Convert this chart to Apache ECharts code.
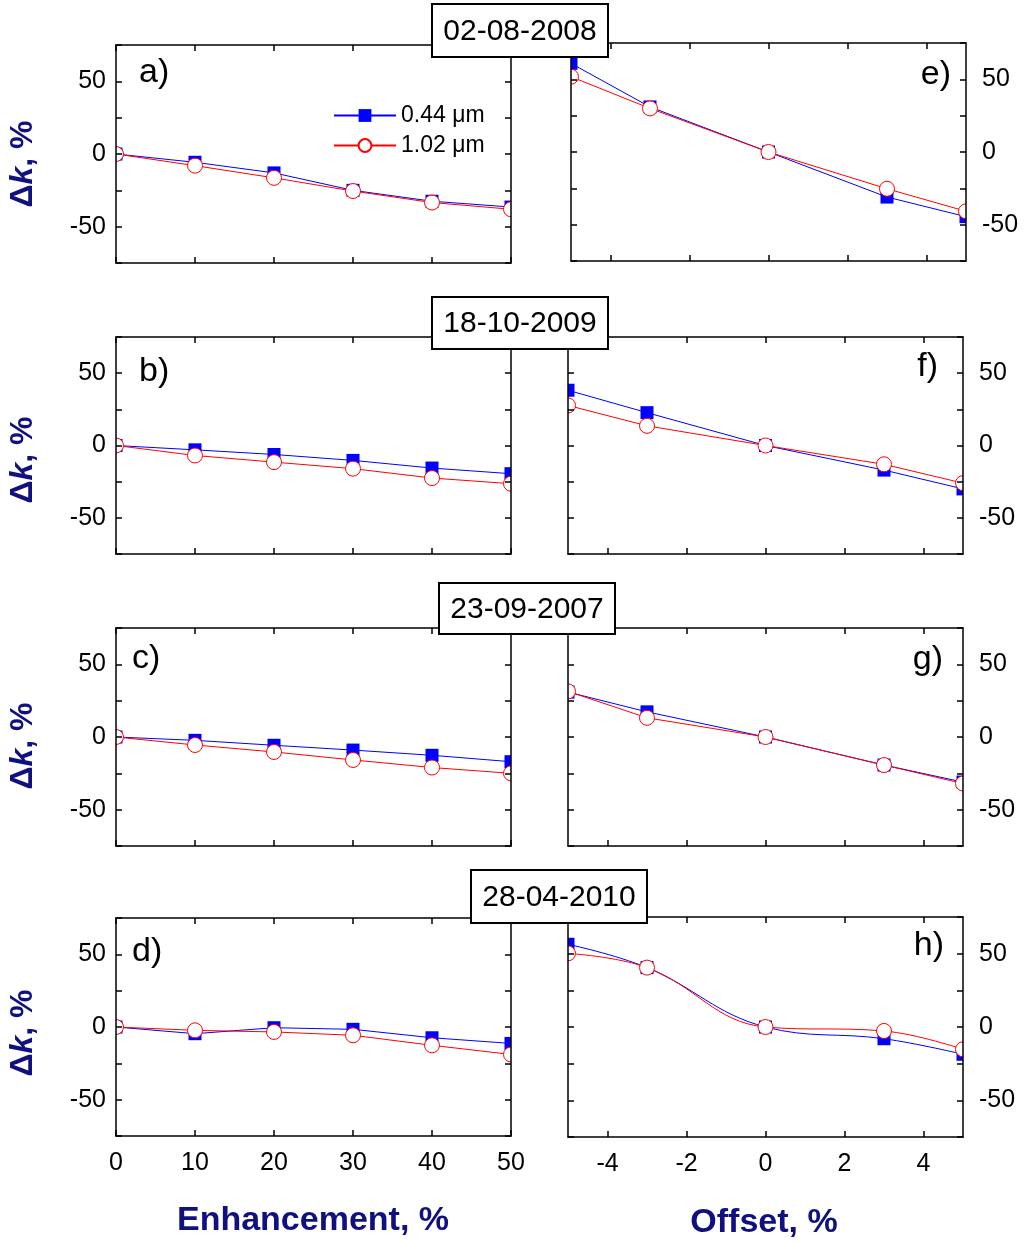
<!DOCTYPE html>
<html>
<head>
<meta charset="utf-8">
<script src="https://cdn.jsdelivr.net/npm/echarts@6/dist/echarts.min.js"></script>
<style>html,body{margin:0;padding:0;background:#fff}#c{width:1024px;height:1244px}</style>
</head>
<body>
<div id="c"></div>
<script>
// ---- data ----
var enhX = [0, 10, 20, 30, 40, 50];
var offX = [-5, -3, 0, 3, 5];
var enhTicks = [0, 10, 20, 30, 40, 50];
var offTicks = [-4, -2, 0, 2, 4];
var yTickLabels = [-50, 0, 50];
var seriesNames = ['0.44 \u03bcm', '1.02 \u03bcm'];
var dates = ['02-08-2008', '18-10-2009', '23-09-2007', '28-04-2010'];
var panelLetters = ['a)', 'b)', 'c)', 'd)', 'e)', 'f)', 'g)', 'h)'];

var a044 = [0, -5.7, -13, -25, -32.5, -36.5];
var a102 = [0, -8, -16.4, -25.5, -33.4, -38];
var b044 = [0, -3, -6.2, -10.3, -15.6, -19.5];
var b102 = [0, -6.9, -11.5, -16, -22.5, -26.4];
var c044 = [0, -2.3, -5.7, -9, -12.6, -17];
var c102 = [0, -5.5, -10.3, -15.8, -21, -25];
var d044 = [0, -4.6, -0.5, -1.6, -7.4, -11.3];
var d102 = [0, -2.3, -3.4, -5.7, -12.6, -18.9];
var e044 = [61, 31, 0, -31, -44.5];
var e102 = [51.8, 30, 0, -25.3, -40.8];
var f044 = [38.2, 22.7, 0, -17, -30];
var f102 = [27.7, 13.6, 0, -13, -26];
var g044 = [30.9, 17.3, 0, -19.3, -31];
var g102 = [31.4, 13.2, 0, -19.3, -32];
var h044 = [56.4, 40.5, 0, -8, -18.6];
var h102 = [50.2, 40.5, 0, -2.7, -15.2];

// ---- layout ----
var FONT = '"Liberation Sans", Arial, sans-serif';
var NAVY = '#101080';
var grids = [
  {left: 116, top: 45, width: 395, height: 218},
  {left: 116, top: 337, width: 395, height: 217},
  {left: 116, top: 628, width: 395, height: 218},
  {left: 116, top: 918, width: 395, height: 218},
  {left: 571, top: 43, width: 395, height: 218},
  {left: 568, top: 337, width: 395, height: 217},
  {left: 568, top: 628, width: 395, height: 218},
  {left: 568, top: 917, width: 395, height: 220}
];
var panelData = [
  [enhX, a044, a102, false], [enhX, b044, b102, false], [enhX, c044, c102, false], [enhX, d044, d102, false],
  [offX, e044, e102, false], [offX, f044, f102, false], [offX, g044, g102, false], [offX, h044, h102, true]
];

function pairs(xs, ys) { return xs.map(function (x, i) { return [x, ys[i]]; }); }

var axLine = {show: true, onZero: false, lineStyle: {color: '#000', width: 1.5}};
var axTick = {show: true, inside: true, length: 6, lineStyle: {color: '#000', width: 1.5}};

var xAxes = [], yAxes = [], series = [];
grids.forEach(function (g, i) {
  var right = i >= 4;
  var ticks = right ? offTicks : enhTicks;
  var min = right ? -5 : 0, max = right ? 5 : 50;
  var bottomRow = (i % 4) === 3;
  xAxes.push({
    type: 'value', gridIndex: i, min: min, max: max, position: 'bottom', z: 5,
    axisLine: axLine, axisTick: Object.assign({customValues: ticks}, axTick),
    axisLabel: {show: bottomRow, customValues: ticks, margin: 15, fontSize: 25, fontFamily: FONT, color: '#000'},
    splitLine: {show: false}
  });
  xAxes.push({
    type: 'value', gridIndex: i, min: min, max: max, position: 'top', z: 5,
    axisLine: axLine, axisTick: Object.assign({customValues: ticks}, axTick),
    axisLabel: {show: false}, splitLine: {show: false}
  });
  var lblFmt = function (v) { return yTickLabels.indexOf(v) >= 0 ? String(v) : ''; };
  yAxes.push({
    type: 'value', gridIndex: i, min: -75, max: 75, interval: 25, position: 'left', z: 5,
    axisLine: axLine, axisTick: axTick,
    axisLabel: {show: !right, formatter: lblFmt, margin: 10, fontSize: 25, fontFamily: FONT, color: '#000'},
    splitLine: {show: false}
  });
  yAxes.push({
    type: 'value', gridIndex: i, min: -75, max: 75, interval: 25, position: 'right', z: 5,
    axisLine: axLine, axisTick: axTick,
    axisLabel: {show: right, formatter: lblFmt, margin: 16, fontSize: 25, fontFamily: FONT, color: '#000'},
    splitLine: {show: false}
  });
  var pd = panelData[i];
  series.push({
    name: seriesNames[0], type: 'line', xAxisIndex: 2 * i, yAxisIndex: 2 * i,
    data: pairs(pd[0], pd[1]), smooth: pd[3] ? 0.4 : false, clip: false,
    symbol: 'rect', symbolSize: 13, z: 2,
    lineStyle: {color: '#0000ff', width: 1},
    itemStyle: {color: '#0000ff'}
  });
  series.push({
    name: seriesNames[1], type: 'line', xAxisIndex: 2 * i, yAxisIndex: 2 * i,
    data: pairs(pd[0], pd[2]), smooth: pd[3] ? 0.4 : false, clip: false,
    symbol: 'circle', symbolSize: 15, z: 2,
    lineStyle: {color: '#ff0000', width: 1},
    itemStyle: {color: '#ffffff', borderColor: '#ff0000', borderWidth: 1}
  });
});

// graphics
var gfx = [];
// masks to clip markers at the frame edges
var rowBounds = [[43, 263], [337, 554], [628, 846], [917, 1137]];
rowBounds.forEach(function (rb, r) {
  var lg = grids[r], rg = grids[r + 4];
  gfx.push({type: 'rect', z: 3, silent: true, shape: {x: 96, y: rb[0], width: lg.left - 96, height: rb[1] - rb[0]}, style: {fill: '#fff'}});
  gfx.push({type: 'rect', z: 3, silent: true, shape: {x: lg.left + lg.width, y: rb[0], width: rg.left - lg.left - lg.width, height: rb[1] - rb[0]}, style: {fill: '#fff'}});
  gfx.push({type: 'rect', z: 3, silent: true, shape: {x: rg.left + rg.width, y: rb[0], width: 12, height: rb[1] - rb[0]}, style: {fill: '#fff'}});
});
// date boxes
var boxes = [[432, 4, 176, 53], [432, 297, 176, 52], [439, 583, 176, 51], [471, 870, 176, 53]];
boxes.forEach(function (b, i) {
  gfx.push({type: 'rect', z: 10, shape: {x: b[0], y: b[1], width: b[2], height: b[3]}, style: {fill: '#fff', stroke: '#000', lineWidth: 2}});
  gfx.push({type: 'text', z: 11, x: b[0] + b[2] / 2, y: b[1] + b[3] / 2 + 1,
    style: {text: dates[i], font: '30px ' + FONT, fill: '#000', align: 'center', verticalAlign: 'middle'}});
});
// panel letters
var letterPos = [[139, 73, 'left'], [139, 372, 'left'], [132, 659, 'left'], [132, 952, 'left'],
                 [951, 75, 'right'], [938, 367, 'right'], [943, 660, 'right'], [944, 946, 'right']];
letterPos.forEach(function (p, i) {
  gfx.push({type: 'text', z: 6, x: p[0], y: p[1],
    style: {text: panelLetters[i], font: '34px ' + FONT, fill: '#000', align: p[2], verticalAlign: 'middle'}});
});
// y titles
var yTitleY = [164, 460, 746, 1033];
yTitleY.forEach(function (yy) {
  gfx.push({type: 'text', z: 6, x: 23, y: yy, rotation: Math.PI / 2,
    style: {text: '{d|\u0394}{k|k}{d|, %}', align: 'center', verticalAlign: 'middle',
      rich: {d: {font: 'bold 32px ' + FONT, fill: NAVY}, k: {font: 'italic bold 32px ' + FONT, fill: NAVY}}}});
});
// x titles
gfx.push({type: 'text', z: 6, x: 313, y: 1221, style: {text: 'Enhancement, %', font: 'bold 34px ' + FONT, fill: NAVY, align: 'center', verticalAlign: 'middle'}});
gfx.push({type: 'text', z: 6, x: 764, y: 1223, style: {text: 'Offset, %', font: 'bold 34px ' + FONT, fill: NAVY, align: 'center', verticalAlign: 'middle'}});

var option = {
  animation: false,
  backgroundColor: '#fff',
  grid: grids,
  xAxis: xAxes,
  yAxis: yAxes,
  series: series,
  legend: {
    data: seriesNames, orient: 'vertical', left: 328, top: 99,
    itemWidth: 62, itemHeight: 16, itemGap: 7, itemTextGap: 6, selectedMode: false,
    textStyle: {fontSize: 23, fontFamily: FONT, color: '#000', lineHeight: 16}
  },
  graphic: gfx
};
var chart = echarts.init(document.getElementById('c'));
chart.setOption(option);
</script>
</body>
</html>
